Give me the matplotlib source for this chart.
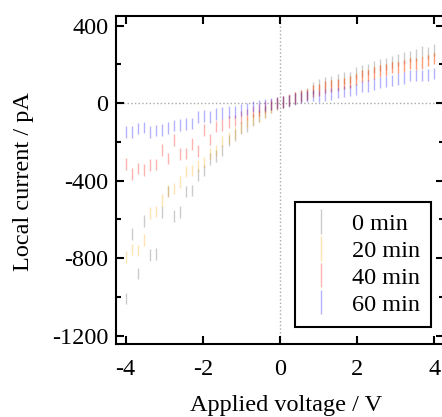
import numpy as np
import matplotlib.pyplot as plt

# applied voltage sweep (V), 52 points from -4 to 4
voltage = np.linspace(-4, 4, 52)

# local current (pA)
i_0min = [-1008, -674, -879, -609, -785, -780, -563, -455, -583, -562,
          -455, -450, -371, -347, -288, -273, -245, -192, -165, -128,
          -118, -86, -69, -45, -19, -4, 5, 13, 27, 39,
          48, 78, 95, 104, 112, 121, 130, 133, 155, 167,
          173, 188, 198, 203, 214, 224, 234, 240, 250, 265,
          260, 275]
i_20min = [-795, -755, -760, -706, -567, -560, -500, -451, -440, -407,
           -353, -348, -323, -306, -259, -244, -198, -180, -154, -125,
           -98, -81, -65, -45, -19, -4, 5, 13, 26, 37,
           44, 63, 70, 84, 90, 97, 104, 109, 125, 143,
           145, 160, 169, 174, 187, 186, 194, 207, 204, 211,
           223, 233]
i_40min = [-313, -364, -337, -345, -318, -317, -241, -285, -191, -263,
           -259, -211, -246, -137, -187, -120, -114, -98, -90, -72,
           -59, -42, -36, -21, -6, 3, 7, 15, 26, 37,
           44, 62, 68, 82, 88, 95, 102, 108, 122, 140,
           143, 157, 166, 172, 184, 184, 192, 204, 202, 209,
           220, 230]
i_60min = [-150, -150, -131, -126, -150, -141, -140, -128, -116, -113,
           -106, -104, -72, -65, -70, -55, -52, -44, -44, -35,
           -29, -18, -16, -10, -4, 2, 5, 12, 22, 30,
           34, 40, 35, 42, 49, 56, 61, 66, 70, 87,
           89, 100, 107, 112, 117, 126, 130, 143, 143, 143,
           144, 153]
err = 30  # pA, half length of each bar

labels = ['0 min', '20 min', '40 min', '60 min']
colors = ['#555555', 'orange', 'red', 'blue']

plt.rcParams['font.family'] = ['Liberation Serif', 'DejaVu Serif']
plt.rcParams['font.size'] = 17.5
plt.rcParams['axes.unicode_minus'] = False

fig = plt.figure(figsize=(4.42, 4.17), dpi=100)
ax = fig.add_axes([116/442, 73/417, 328/442, 328/417])

ax.axhline(0, color='#aaaaaa', lw=1, ls=':', zorder=0)
ax.axvline(0, color='#aaaaaa', lw=1, ls=':', zorder=0)

for data, lab, col in zip([i_0min, i_20min, i_40min, i_60min], labels, colors):
    ax.errorbar(voltage, data, yerr=err, fmt='none', ecolor=col,
                alpha=0.3, elinewidth=1.0, label=lab)

ax.set_xlim(-4.25, 4.25)
ax.set_ylim(-1243, 450)
ax.set_xticks([-4, -2, 0, 2, 4])
ax.set_yticks([-1200, -800, -400, 0, 400])
ax.set_yticks([-1000, -600, -200, 200], minor=True)

for s in ax.spines.values():
    s.set_linewidth(1.5)
ax.tick_params(which='both', direction='in', top=True, right=True, width=1.5)
ax.tick_params(which='major', length=6)
ax.tick_params(which='minor', length=3.5)
ax.tick_params(axis='y', which='major', pad=5.5)
ax.tick_params(axis='x', which='major', pad=11)

ax.set_xlabel('Applied voltage / V')
ax.set_ylabel('Local current / pA')
ax.xaxis.set_label_coords(0.518, -0.155)
ax.yaxis.set_label_coords(-0.25, 0.495)

leg = ax.legend(loc='lower left', bbox_to_anchor=(0.546, 0.053),
                borderaxespad=0, fancybox=False, framealpha=1,
                edgecolor='k', handlelength=1.2, handletextpad=0.7,
                labelspacing=0.2, borderpad=0.45, fontsize=17.5)
leg.get_frame().set_linewidth(1.5)

fig.savefig('out.png', dpi=100)
